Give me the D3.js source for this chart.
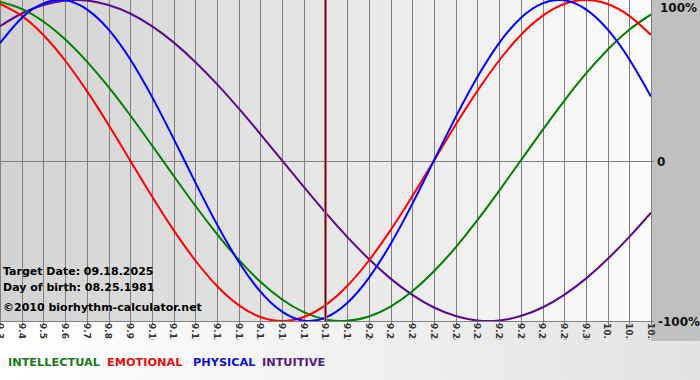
<!DOCTYPE html>
<html><head><meta charset="utf-8">
<script src="https://cdn.jsdelivr.net/npm/d3@7"></script>
<style>html,body{margin:0;padding:0;background:#fff;overflow:hidden}</style>
</head><body>
<svg id="chart" width="700" height="380"></svg>
<script>
const dayLabels = ["9.3","9.4","9.5","9.6","9.7","9.8","9.9","9.10","9.11","9.12","9.13","9.14","9.15","9.16","9.17","9.18","9.19","9.20","9.21","9.22","9.23","9.24","9.25","9.26","9.27","9.28","9.29","9.30","10.1","10.2","10.3"];
const intellectual = [0.990,0.945,0.866,0.756,0.618,0.458,0.282,0.095,-0.095,-0.282,-0.458,-0.618,-0.756,-0.866,-0.945,-0.990,-0.999,-0.972,-0.910,-0.815,-0.690,-0.541,-0.372,-0.189,0,0.189,0.372,0.541,0.690,0.815,0.910];
const emotional = [0.975,0.901,0.782,0.623,0.434,0.223,0,-0.223,-0.434,-0.623,-0.782,-0.901,-0.975,-1,-0.975,-0.901,-0.782,-0.623,-0.434,-0.223,0,0.223,0.434,0.623,0.782,0.901,0.975,1,0.975,0.901,0.782];
const physical = [0.731,0.888,0.979,0.998,0.942,0.817,0.631,0.398,0.136,-0.136,-0.398,-0.631,-0.817,-0.942,-0.998,-0.979,-0.888,-0.731,-0.520,-0.270,0,0.270,0.520,0.731,0.888,0.979,0.998,0.942,0.817,0.631,0.398];
const intuitive = [0.837,0.916,0.969,0.997,0.997,0.969,0.916,0.837,0.736,0.614,0.476,0.325,0.165,0,-0.165,-0.325,-0.476,-0.614,-0.736,-0.837,-0.916,-0.969,-0.997,-0.997,-0.969,-0.916,-0.837,-0.736,-0.614,-0.476,-0.325];
const seriesNames = ["INTELLECTUAL","EMOTIONAL","PHYSICAL","INTUITIVE"];
const yTickLabels = ["100%","0","-100%"];
const yTickValues = [1,0,-1];
const targetLabel = "9.18";
const infoLines = ["Target Date: 09.18.2025","Day of birth: 08.25.1981","©2010 biorhythm-calculator.net"];

const colors = {INTELLECTUAL:"#008000",EMOTIONAL:"#ff0000",PHYSICAL:"#0000ff",INTUITIVE:"#5a0a8c"};
const legendColors = {INTELLECTUAL:"#1b7a1b",EMOTIONAL:"#e01010",PHYSICAL:"#1010d0",INTUITIVE:"#551a80"};
const seriesData = {INTELLECTUAL:intellectual,EMOTIONAL:emotional,PHYSICAL:physical,INTUITIVE:intuitive};

const svg = d3.select("#chart");
const W = 700, H = 380;
const plotL = 0, plotR = 651, plotT = 0, plotB = 321;

const defs = svg.append("defs");
const g1 = defs.append("linearGradient").attr("id","plotbg").attr("x1","0").attr("x2","1").attr("y1","0").attr("y2","0");
g1.append("stop").attr("offset","0").attr("stop-color","#d2d2d2");
g1.append("stop").attr("offset","1").attr("stop-color","#fbfbfb");
const g2 = defs.append("linearGradient").attr("id","botbg").attr("x1","0").attr("x2","1").attr("y1","0").attr("y2","0");
g2.append("stop").attr("offset","0").attr("stop-color","#ffffff");
g2.append("stop").attr("offset","1").attr("stop-color","#e2e2e2");
defs.append("clipPath").attr("id","plotclip").append("rect").attr("x",plotL).attr("y",plotT).attr("width",plotR-plotL).attr("height",plotB-plotT);
defs.append("clipPath").attr("id","labclip").append("rect").attr("x",0).attr("y",plotB).attr("width",plotR+6).attr("height",340-plotB);

svg.append("rect").attr("x",0).attr("y",0).attr("width",W).attr("height",H).attr("fill","url(#botbg)");
svg.append("rect").attr("x",plotL).attr("y",plotT).attr("width",plotR-plotL).attr("height",plotB-plotT).attr("fill","url(#plotbg)");
svg.append("rect").attr("x",plotR).attr("y",0).attr("width",W-plotR).attr("height",341).attr("fill","#c0c0c0");

const x = d3.scaleLinear().domain([0, dayLabels.length-1]).range([plotL, plotR]);
const y = d3.scaleLinear().domain([-1,1]).range([plotB, plotT]);

// vertical grid via axis
const xAxis = d3.axisBottom(x).tickValues(d3.range(dayLabels.length)).tickSize(plotB-plotT+4).tickFormat("");
const gx = svg.append("g").attr("transform",`translate(0,${plotT})`).call(xAxis);
gx.select(".domain").remove();
gx.selectAll(".tick line").attr("stroke","#7f7f7f").attr("stroke-width",1).attr("shape-rendering","crispEdges");

// horizontal lines
const yAxis = d3.axisRight(y).tickValues([0,-1]).tickSize(plotR-plotL+3).tickFormat("");
const gy = svg.append("g").attr("transform",`translate(${plotL},0)`).call(yAxis);
gy.select(".domain").remove();
gy.selectAll(".tick line").attr("stroke","#7f7f7f").attr("shape-rendering","crispEdges");

// date labels
const lab = svg.append("g").attr("clip-path","url(#labclip)");
lab.selectAll("text").data(dayLabels).enter().append("text")
  .attr("transform",(d,i)=>`translate(${x(i)},${plotB+2}) rotate(90)`)
  .attr("dy","0.35em")
  .attr("font-family","DejaVu Sans, Verdana, sans-serif")
  .attr("font-size","9px").attr("font-weight","bold").attr("fill","#333")
  .text(d=>d);

// right labels
svg.selectAll("text.yl").data(yTickValues).enter().append("text").attr("class","yl")
  .attr("x",(d,i)=> i===0?660:(i===1?657:658))
  .attr("y",d=> d===1 ? 12 : y(d)+5)
  .attr("font-family","DejaVu Sans, Verdana, sans-serif")
  .attr("font-size","12px").attr("font-weight","bold").attr("fill","#111")
  .text((d,i)=>yTickLabels[i]);

// info text
svg.selectAll("text.info").data(infoLines).enter().append("text").attr("class","info")
  .attr("x",3).attr("y",(d,i)=>[275,291,311][i])
  .attr("font-family","DejaVu Sans, Verdana, sans-serif")
  .attr("font-size","11px").attr("font-weight","bold").attr("fill","#000")
  .text(d=>d);

// curves
const line = d3.line().x((d,i)=>x(i)).y(d=>y(d)).curve(d3.curveNatural);
const cg = svg.append("g").attr("clip-path","url(#plotclip)");
["INTUITIVE","INTELLECTUAL","EMOTIONAL","PHYSICAL"].forEach(n=>{
  cg.append("path").datum(seriesData[n]).attr("d",line)
    .attr("fill","none").attr("stroke",colors[n]).attr("stroke-width",2);
});

// target marker
const ti = dayLabels.indexOf(targetLabel);
svg.append("line").attr("x1",x(ti)).attr("x2",x(ti)).attr("y1",plotT).attr("y2",plotB)
  .attr("stroke","#c08080").attr("stroke-width",3);
svg.append("line").attr("x1",x(ti)).attr("x2",x(ti)).attr("y1",plotT).attr("y2",plotB)
  .attr("stroke","#6a0000").attr("stroke-width",1.2);

// legend
const legX = [8,107,193,262];
svg.selectAll("text.leg").data(seriesNames).enter().append("text").attr("class","leg")
  .attr("x",(d,i)=>legX[i]).attr("y",366)
  .attr("font-family","DejaVu Sans, Verdana, sans-serif")
  .attr("font-size","11.3px").attr("font-weight","bold")
  .attr("fill",d=>legendColors[d])
  .text(d=>d);
</script>
</body></html>
